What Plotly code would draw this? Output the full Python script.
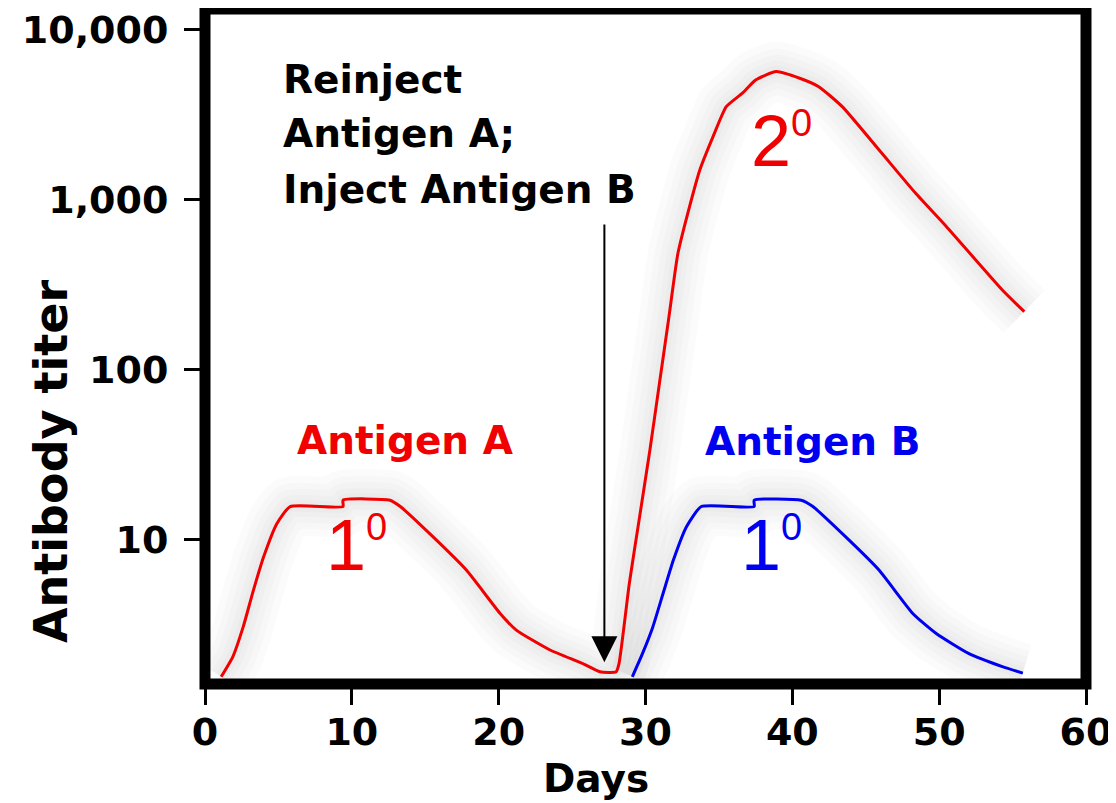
import math
import plotly.graph_objects as go

# ---------------- data ----------------
days_a = [1.1, 1.9, 2.6, 3.3, 4.0, 4.9, 5.8, 9.4, 9.4, 12.6, 13.3, 15.5, 17.8, 20.1,
          21.2, 23.5, 25.7, 26.9, 28.0, 28.2, 28.9, 29.6, 30.3, 30.95, 31.6, 32.2,
          33.0, 33.7, 34.6, 35.5, 36.6, 37.5, 38.9, 40.5, 41.8, 43.4, 46.1, 48.4,
          50.5, 54.3, 55.8]
titer_a = [1.55, 2.04, 3.05, 5.02, 7.91, 12.4, 15.6, 15.6, 17.0, 17.0, 15.6, 10.4,
           6.59, 3.66, 2.92, 2.23, 1.86, 1.66, 1.66, 1.86, 5.51, 13.6, 33.6, 83,
           205, 479, 910, 1496, 2350, 3530, 4240, 5070, 5680, 5190, 4630, 3530,
           1875, 1090, 693, 294, 219]

days_b = [29.1, 29.8, 30.5, 31.2, 31.9, 32.8, 33.8, 37.4, 37.4, 40.6, 41.4, 43.6,
          45.9, 48.2, 49.8, 52.0, 54.3, 55.7]
titer_b = [1.55, 2.13, 3.05, 4.81, 7.55, 11.9, 15.6, 15.6, 17.0, 17.0, 15.6, 10.4,
           6.59, 3.66, 2.79, 2.13, 1.78, 1.63]

x_ticks = [0, 10, 20, 30, 40, 50, 60]
y_ticks = [10, 100, 1000, 10000]
y_tick_labels = ["10", "100", "1,000", "10,000"]

inject_day = 27.2
arrow_top_titer = 730
arrow_tip_titer = 1.89

RED = "#f00000"
BLUE = "#0000f0"
BOLD = "DejaVu Sans"
THIN = "Liberation Sans Narrow, Liberation Sans, Arial"

# ---------------- layout geometry (screen pixels) ----------------
# the page body has an 8px margin, so the figure is drawn 8px smaller
OFF = 8
SW, SH = 1116, 803
X0, X1, Y0, Y1 = 205, 1086, 9, 684          # plot area on screen
W, H = SW - OFF, SH - OFF
L, T = X0 - OFF, Y0 - OFF
R, B = SW - X1, SH - Y1
PW, PH = X1 - X0, Y1 - Y0


def px(xp):
    return (xp - X0) / PW


def py(yp):
    return (Y1 - yp) / PH


fig = go.Figure()
# soft grey halo under the curves
for w in (60, 46, 34, 22, 12):
    for xs, ys in ((days_a, titer_a), (days_b, titer_b)):
        fig.add_trace(go.Scatter(x=xs, y=ys, mode="lines",
                                 line=dict(color="rgba(0,0,0,0.016)", width=w,
                                           shape="spline", smoothing=0.5),
                                 hoverinfo="skip"))
fig.add_trace(go.Scatter(x=days_a, y=titer_a, mode="lines",
                         line=dict(color=RED, width=3, shape="spline", smoothing=0.5),
                         hoverinfo="skip"))
fig.add_trace(go.Scatter(x=days_b, y=titer_b, mode="lines",
                         line=dict(color=BLUE, width=3, shape="spline", smoothing=0.5),
                         hoverinfo="skip"))

ann = []
# injection arrow
ann.append(dict(x=inject_day, y=math.log10(arrow_tip_titer), xref="x", yref="y",
                ax=inject_day, ay=math.log10(arrow_top_titer), axref="x", ayref="y",
                text="", showarrow=True, arrowhead=2, arrowsize=2.6, arrowwidth=2,
                arrowcolor="black", standoff=0))


def txt(s, xp, yp, size, color, family=BOLD, weight="bold", xanchor="left", angle=0):
    ann.append(dict(text=s, x=px(xp), y=py(yp), xref="paper", yref="paper",
                    xanchor=xanchor, yanchor="middle", showarrow=False, textangle=angle,
                    font=dict(family=family, size=size, color=color, weight=weight)))


SUP = "<sup><span style='font-size:38px'>0</span></sup>"

txt("Reinject", 281, 80, 39, "black")
txt("Antigen A;", 281, 133, 39, "black")
txt("Inject Antigen B", 281, 189, 39, "black")
txt("Antigen A", 405, 440, 39, RED, xanchor="center")
txt("Antigen B", 812, 441, 39, BLUE, xanchor="center")
# 1°, 2° labels
txt("1" + SUP, 324, 545, 72, RED, family=THIN, weight="normal")
txt("2" + SUP, 749, 141, 72, RED, family=THIN, weight="normal")
txt("1" + SUP, 739, 545, 72, BLUE, family=THIN, weight="normal")
# axis titles
txt("Days", 596, 778, 39, "black", xanchor="center")
txt("Antibody titer", 51, 461, 46, "black", xanchor="center", angle=-90)

frame = dict(type="rect", xref="paper", yref="paper", x0=0, x1=1, y0=0, y1=1,
             line=dict(color="black", width=11), layer="above")

fig.update_layout(
    template="none",
    width=W, height=H,
    margin=dict(l=L, r=R, t=T, b=B, pad=0, autoexpand=False),
    paper_bgcolor="white", plot_bgcolor="white",
    showlegend=False,
    annotations=ann,
    shapes=[frame],
    xaxis=dict(range=[0, 60], tickvals=x_ticks, ticks="outside", ticklen=20,
               tickwidth=3, tickcolor="black", showgrid=False, zeroline=False,
               showline=False, ticklabelstandoff=-6, automargin=False,
               tickfont=dict(family=BOLD, size=38, color="black", weight="bold")),
    yaxis=dict(type="log", range=[0.148, 4.123], tickvals=y_ticks,
               ticktext=y_tick_labels, ticks="outside", ticklen=20, tickwidth=3,
               tickcolor="black", showgrid=False, zeroline=False, showline=False,
               ticklabelstandoff=8, automargin=False,
               tickfont=dict(family=BOLD, size=38, color="black", weight="bold")),
)

fig.write_html("out.html")
